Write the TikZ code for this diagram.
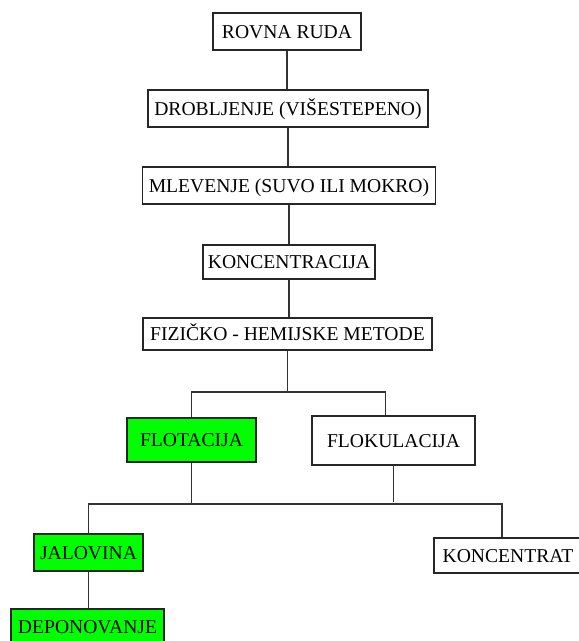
\documentclass[tikz,border=0pt]{standalone}
\usepackage{fontspec}
\setmainfont{Liberation Serif}
\definecolor{flotgreen}{HTML}{00FF00}
\begin{document}
\begin{tikzpicture}[x=1pt,y=-1pt,font=\fontsize{19.6}{21}\selectfont,
	box/.style={draw=black!85,line width=1.4pt,inner sep=0pt,text height=13pt,text depth=0pt},
	greenbox/.style={box,fill=flotgreen},
	link/.style={draw=black!80,line width=1.3pt}]
	\fill[white] (0,0) rectangle (579,641);
	\useasboundingbox (0,0) rectangle (579,641);
	% glavni tok
	\node[box,minimum width=148pt,minimum height=37pt] (rovna) at (287,31.5) {ROVNA RUDA};
	\node[box,minimum width=280pt,minimum height=37pt] (drob) at (288,108.5) {DROBLJENJE (VIŠESTEPENO)};
	\node[box,minimum width=293pt,minimum height=37pt] (mlev) at (289,185.5) {MLEVENJE (SUVO ILI MOKRO)};
	\node[box,minimum width=172pt,minimum height=34pt] (konc) at (289,262) {KONCENTRACIJA};
	\node[box,minimum width=289pt,minimum height=32pt] (fiz) at (287.5,334) {FIZIČKO - HEMIJSKE METODE};
	% metode
	\node[greenbox,minimum width=129pt,minimum height=44pt] (flot) at (191.5,440) {FLOTACIJA};
	\node[box,minimum width=163pt,minimum height=49pt] (flok) at (393.5,440.5) {FLOKULACIJA};
	% proizvodi
	\node[greenbox,minimum width=109pt,minimum height=37pt] (jalo) at (88.5,552.5) {JALOVINA};
	\node[box,minimum width=148pt,minimum height=35pt] (kont) at (508,555.5) {KONCENTRAT};
	\node[greenbox,minimum width=153pt,minimum height=36pt] (depo) at (87.5,627) {DEPONOVANJE};
	\coordinate (bus1) at (288,392);
	\coordinate (bus2) at (89,504);
	\path[link] (rovna.south) -- (rovna.south |- drob.north)
		(drob.south) -- (drob.south |- mlev.north)
		(mlev.south) -- (mlev.south |- konc.north)
		(konc.south) -- (konc.south |- fiz.north)
		(fiz.south) -- (fiz.south |- bus1);
	\path[link] (flot.north) |- (bus1) -| ([xshift=-8pt]flok.north);
	\path[link] (flot.south) -- (flot.south |- bus2);
	\path[link] (flok.south) -- ([yshift=2pt]flok.south |- bus2);
	\path[link] (jalo.north) |- ([xshift=-6pt]kont.north |- bus2) -- ([xshift=-6pt]kont.north);
	\path[link] (jalo.south) -- (jalo.south |- depo.north);
\end{tikzpicture}
\end{document}
